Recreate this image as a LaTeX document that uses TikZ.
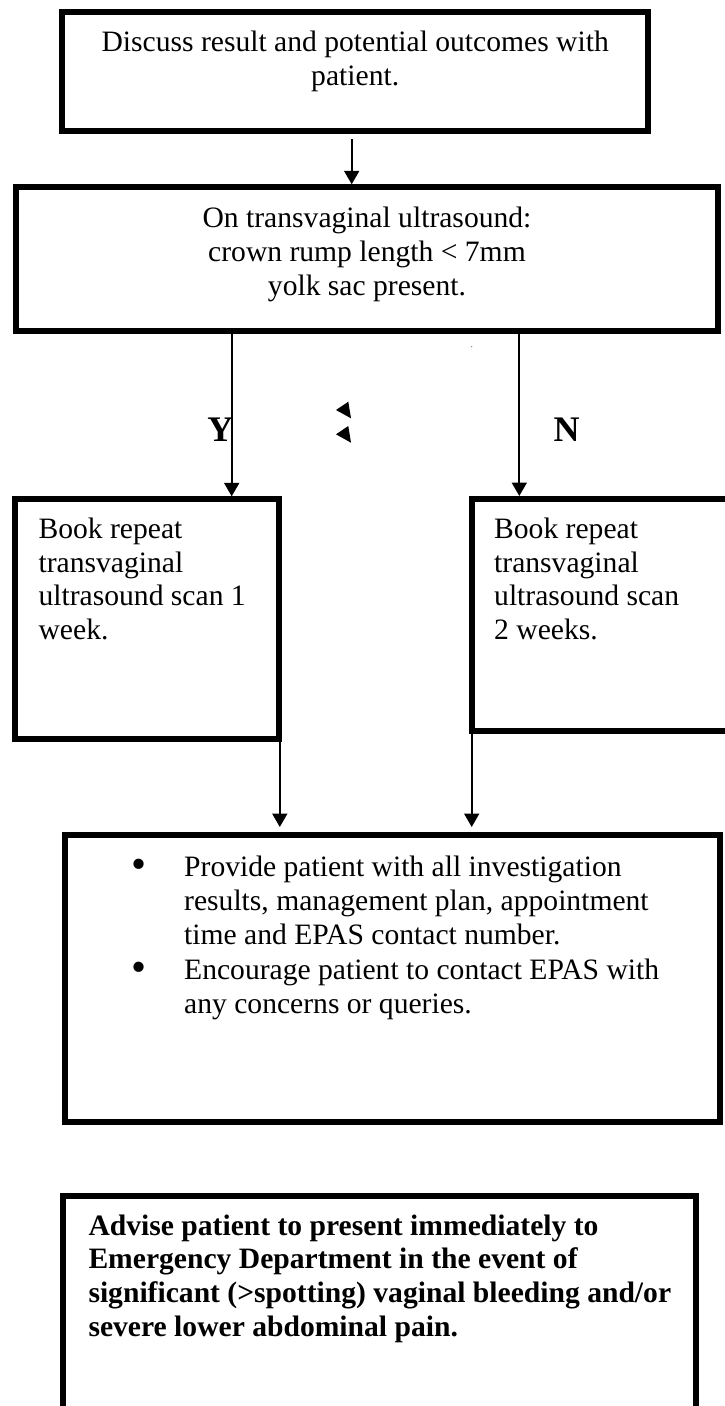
\documentclass[tikz,border=0pt]{standalone}
\usepackage{fontspec}
\setmainfont{Liberation Serif}
\usetikzlibrary{arrows.meta,calc}
\newcommand\bulletmark{\leavevmode\llap{\raisebox{-1.5pt}{\scalebox{1.45}{\textbullet}}\hspace{38pt}}}
\begin{document}
\begin{tikzpicture}[x=1pt,y=-1pt,
  box/.style={draw, line width=6pt, inner sep=0pt, rectangle},
  txt/.style={inner sep=0pt, font=\fontsize{29.6pt}{33.8pt}\selectfont},
  yn/.style={inner sep=0pt, font=\fontsize{36pt}{40pt}\selectfont\bfseries},
  arr/.style={line width=2pt, -{Triangle[length=13.5pt,width=15pt]}}]
\path[use as bounding box, fill=white] (0,0) rectangle (725,1406);
\clip (0,0) rectangle (725,1406);
% boxes
\node[box, minimum width=586.5pt, minimum height=119.3pt] (b1) at (355.2,71.2) {};
\node[box, minimum width=702pt, minimum height=143.2pt] (b2) at (367,258.9) {};
\node[box, minimum width=264pt, minimum height=239.7pt] (b3) at (147,619.2) {};
\node[box, minimum width=274pt, minimum height=232pt] (b4) at (608.5,615) {};
\node[box, minimum width=655.5pt, minimum height=286.7pt] (b5) at (392.25,978.65) {};
\node[box, minimum width=633pt, minimum height=260pt] (b6) at (379.5,1325.5) {};
% texts
\node[txt, anchor=base] (t1) at (355.2,51.7) {\parbox[t]{580pt}{\centering Discuss result and potential outcomes with\\patient.}};
\node[txt, anchor=base] (t2) at (367,227.7) {\parbox[t]{680pt}{\centering On transvaginal ultrasound:\\crown rump length < 7mm\\yolk sac present.}};
\node[txt, anchor=base west] (t3) at (38.4,538.3) {\parbox[t]{235pt}{\raggedright Book repeat\\transvaginal\\ultrasound scan 1\\week.}};
\node[txt, anchor=base west] (t4) at (494,538.3) {\parbox[t]{225pt}{\raggedright Book repeat\\transvaginal\\ultrasound scan\\2 weeks.}};
\node[txt, anchor=base west] (t5) at (184,876.7) {\parbox[t]{530pt}{\raggedright
\bulletmark Provide patient with all investigation\\
results, management plan, appointment\\
time and EPAS contact number.\\[1.8pt]
\bulletmark Encourage patient to contact EPAS with\\
any concerns or queries.}};
\node[txt, anchor=base west] (t6) at (88.3,1235) {\parbox[t]{620pt}{\raggedright\bfseries Advise patient to present immediately to\\Emergency Department in the event of\\significant (>spotting) vaginal bleeding and/or\\severe lower abdominal pain.}};
\node[yn, anchor=base] (Y) at (220.3,441.7) {Y};
\node[yn, anchor=base] (N) at (566.7,441.7) {N};
% connectors
\coordinate (a1s) at ($(b1.south)+(-3.5,5.5)$);
\draw[arr] (a1s) -- (a1s |- b2.north);
\coordinate (ly) at (231.7,0);
\coordinate (ln) at (519.3,0);
\draw[arr] (b2.south -| ly) -- (b3.north -| ly);
\draw[arr] (b2.south -| ln) -- (b4.north -| ln);
\coordinate (l1) at (279.8,0);
\coordinate (l2) at (471.7,0);
\draw[arr, shorten >=5.3pt] (b3.south -| l1) -- (b5.north -| l1);
\draw[arr, shorten >=5.3pt] (b4.south -| l2) -- (b5.north -| l2);
% small marks
\fill (336,410) -- (348.3,401.7) -- (351,418.3) -- cycle;
\fill (336,434.3) -- (348.3,426) -- (351,442.7) -- cycle;
\fill[gray] (471.7,346.7) circle (0.7);
\end{tikzpicture}
\end{document}
